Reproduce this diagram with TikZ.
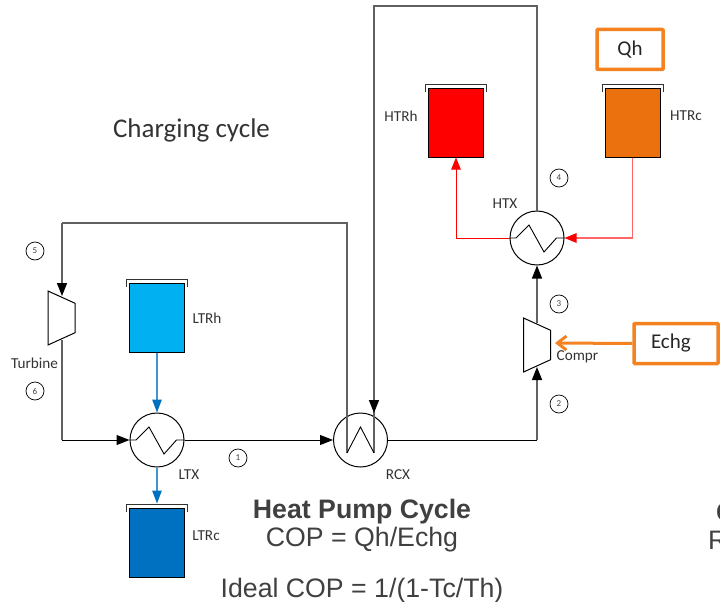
\documentclass[tikz,border=0pt]{standalone}
\usepackage{fontspec}
\setmainfont{Carlito}
\newfontfamily\arialfont{Liberation Sans}
\usetikzlibrary{shapes.geometric,arrows.meta,calc}

\begin{document}
\begin{tikzpicture}[
  x=1pt, y=-1pt,
  tank/.style={rectangle, draw=black, line width=1pt, minimum width=55pt, minimum height=69pt, inner sep=0pt},
  hexch/.style={circle, draw=black, line width=1pt, minimum size=54pt, inner sep=0pt},
  machine/.style={trapezium, trapezium angle=68.75, trapezium stretches=true, draw=black, line width=1pt, fill=white, minimum width=54pt, minimum height=27pt, inner sep=1pt, rotate=-90},
  statept/.style={circle, draw=black, line width=0.7pt, minimum size=18pt, inner sep=0pt, font=\fontsize{9}{9}\selectfont, text=black!75},
  inputbox/.style={rectangle, draw=orangeline, line width=3.5pt, rounded corners=0.8pt, minimum height=40pt, inner sep=0pt, font=\fontsize{21}{23}\selectfont, text=black!85},
  tag/.style={inner sep=0pt, font=\fontsize{15.2}{17}\selectfont, text=black!80},
  cycletext/.style={inner sep=0pt, font=\arialfont\fontsize{26.7}{30}\selectfont, text=black!75},
  flow/.style={line width=1pt, -{Triangle[length=13pt,width=10pt]}},
  pipe/.style={line width=1.5pt, draw=black!62},
  flowup/.style={pipe, -{Triangle[length=13pt,width=10pt,color=black]}},
  hotflow/.style={line width=1pt, draw=red, -{Triangle[length=12pt,width=9.5pt,color=red]}},
  coldflow/.style={line width=1.2pt, draw=blueline!75, -{Triangle[length=13pt,width=9.5pt,color=blueline]}}
]
\definecolor{orangeline}{HTML}{F58220}
\definecolor{blueline}{HTML}{0070C0}
\clip (0,0) rectangle (720,602);

% --- Tanques ---
\node[tank, fill=red] (htrh) at (456,122.5) {};
\node[tank, fill={rgb,255:red,235;green,113;blue,15}] (htrc) at (632.5,122.5) {};
\node[tank, fill={rgb,255:red,0;green,176;blue,240}] (ltrh) at (157,317.5) {};
\node[tank, fill=blueline] (ltrc) at (157,542.5) {};
\foreach \tk in {htrh,htrc,ltrh,ltrc}
  \draw[line width=0.9pt, black!80] ($(\tk.north west)+(-2.5,4.5)$) -- ++(0,-8) -- ($(\tk.north east)+(2.5,-3.5)$) -- ++(0,8);

% --- Intercambiadores y maquinas ---
\node[hexch] (htx) at (537,238) {};
\node[hexch] (ltx) at (157,440) {};
\node[hexch] (rcx) at (360.5,440) {};
\node[machine] (turb) at (61.5,318) {\phantom{x}};
\node[machine] (compr) at (537,345) {\phantom{x}};
\coordinate (rcxa) at (347,453);
\coordinate (rcxb) at (374,453);
\coordinate (topa) at (537,6);
\coordinate (topb) at (62,223);
\coordinate (turbout) at (62,340);

% --- Flujo ---
\draw[pipe] (htx.north) -- (topa) -| (rcxb);
\draw[flowup, shorten >=27pt] (topa -| rcxb) -- (rcx.center -| rcxb);
\draw[pipe] (rcxa) -- (rcxa |- topb) -- (topb);
\draw[flowup] (topb) -- ($(turb.center)+(0.5,-22)$);
\draw[pipe] (turbout) -- (turbout |- ltx.west);
\draw[flow] (turbout |- ltx.west) -- (ltx.west);
\draw[flow] (ltx.east) -- (rcx.west);
\draw[line width=1pt] (rcx.east) -- (rcx.east -| compr);
\draw[flowup] (rcx.east -| compr) -- ($(compr.center)+(0,22)$);
\draw[flowup] ($(compr.center)+(0,-22)$) -- (htx.south);
\draw[hotflow] (htx.west) -| (htrh.south);
\draw[hotflow, draw=red!60, line width=1.3pt] (htrc.south) |- (htx.east);
\draw[coldflow] (ltrh.south) -- (ltx.north);
\draw[coldflow, shorten >=4pt] (ltx.south) -- (ltrc.north);

% --- Serpentines ---
\draw[line width=0.9pt] (ltx.west) -- ++(6.5,0) -- ++(13,-13) -- ++(15,27) -- ++(12.5,-14) -- (ltx.east);
\draw[line width=0.9pt] (htx.west) -- ++(6.5,0) -- ++(13,-13) -- ++(15,27) -- ++(12.5,-14) -- (htx.east);
\draw[line width=0.9pt] (rcxa) -- (360.5,427) -- (rcxb);

% --- Entradas ---
\node[inputbox, minimum width=66pt] (qh) at (630,49.5) {\raisebox{-2.5pt}{Qh}\hspace{3pt}};
\node[inputbox, minimum width=84pt, text width=50pt, inner xsep=17pt, align=left] (echg) at (676,343.5) {\raisebox{-2.5pt}{Echg}};
\draw[line width=3pt, orangeline, -{Straight Barb[length=9pt,width=14pt]}] (echg.west) -- ($(compr.center)+(18,-2)$);

% --- Puntos del ciclo ---
\node[statept] (p1) at (238,458) {1};
\node[statept] (p2) at (559,404) {2};
\node[statept] (p3) at (559,304) {3};
\node[statept] (p4) at (559,178) {4};
\node[statept] (p5) at (35,251) {5};
\node[statept] (p6) at (35,391) {6};

% --- Textos ---
\node[tag] (lhtrh) at (401,116) {HTRh};
\node[tag] (lhtrc) at (686,116) {HTRc};
\node[tag] (lhtx) at (505,204) {HTX};
\node[tag] (lltrh) at (207,318.5) {LTRh};
\node[tag] (lltrc) at (206,536) {LTRc};
\node[tag] (lltx) at (189,475) {LTX};
\node[tag] (lrcx) at (398,475) {RCX};
\node[tag] (lturb) at (34.5,363) {Turbine};
\node[tag] (lcompr) at (577.5,356.5) {Compr};
\node[inner sep=0pt, font=\fontsize{27}{29}\selectfont, text=black!80] (title) at (191.5,130) {Charging cycle};
\node[cycletext, font=\arialfont\bfseries\fontsize{26.7}{30}\selectfont] (hpc) at (362,512) {Heat Pump Cycle};
\node[cycletext] (cop) at (362,540) {COP = Qh/Echg};
\node[cycletext] (icop) at (362,590.5) {Ideal COP = 1/(1-Tc/Th)};
\node[cycletext, font=\arialfont\bfseries\fontsize{26.7}{30}\selectfont, anchor=west] (cutc) at (716,512) {C};
\node[cycletext, anchor=west] (cutr) at (708,540) {R};
\end{tikzpicture}
\end{document}
